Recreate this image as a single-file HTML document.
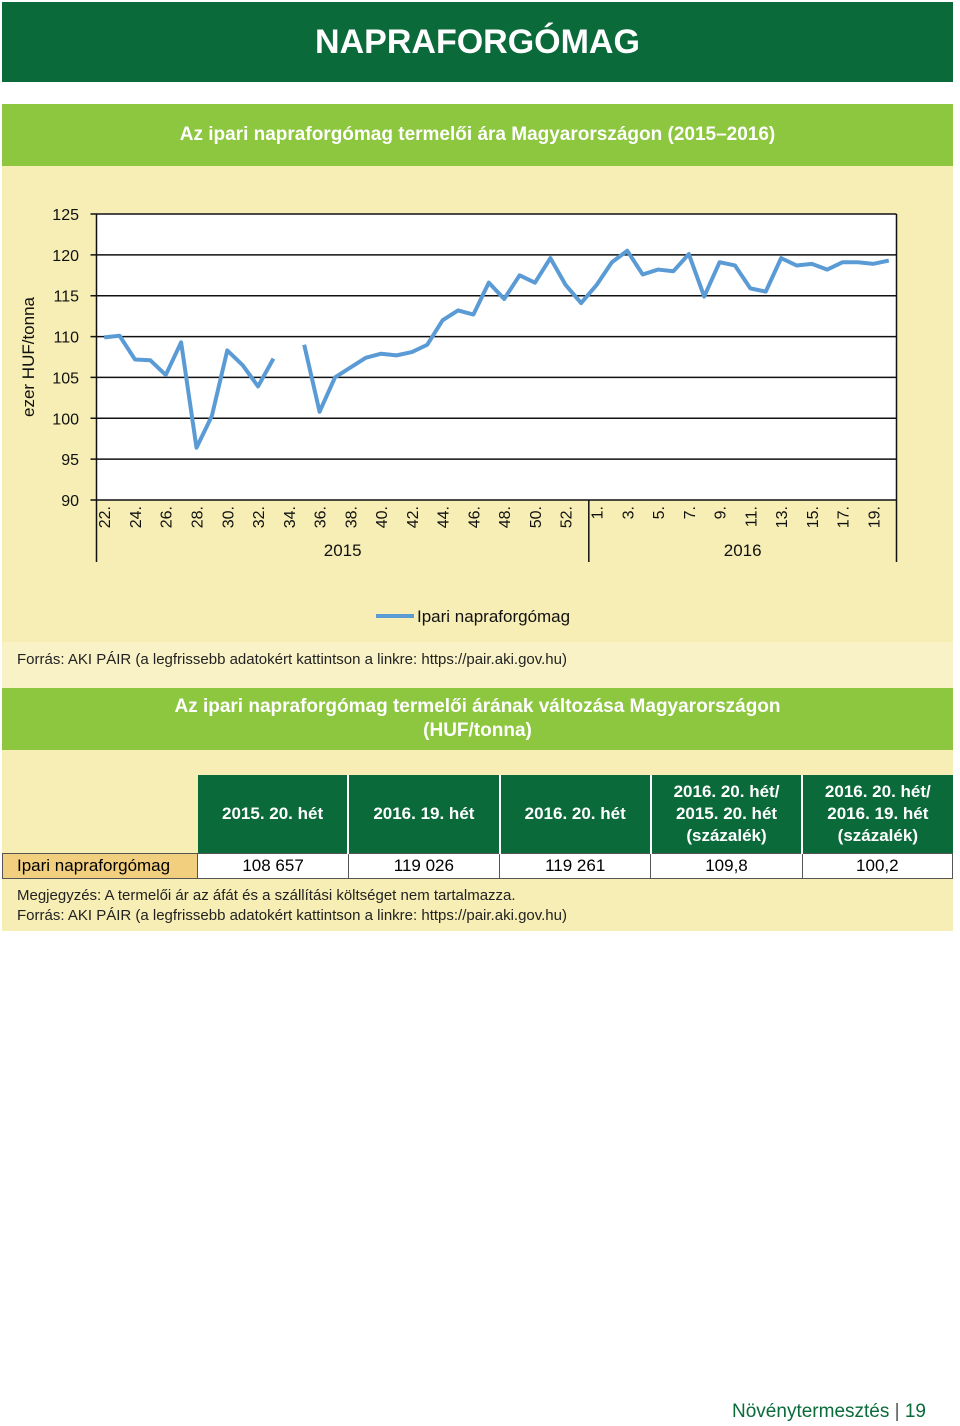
<!DOCTYPE html>
<html><head><meta charset="utf-8"><style>
body{margin:0;width:960px;height:1426px;background:#fff;font-family:"Liberation Sans",sans-serif;position:relative;overflow:hidden}
.abs{position:absolute}
.hdr{left:2px;width:951px;top:2px;height:80px;background:#0b6a3a;color:#fff;font-weight:bold;font-size:34px;text-align:center;line-height:80px}
.band{left:2px;width:951px;background:#8dc63f;color:#fff;font-weight:bold;font-size:19px;text-align:center}
.yel{left:2px;width:951px;background:#f6eeb4}
table{border-collapse:collapse}
td{font-size:17px;text-align:center;padding:0}
.th{background:#0b6a3a;color:#fff;font-weight:bold;border-right:2px solid #fff;height:78px;line-height:22px}
.tc{border:1px solid #555;height:24px;background:#fff}
</style></head><body>
<div class="abs hdr">NAPRAFORGÓMAG</div>
<div class="abs band" style="top:104px;height:62px;line-height:62px">Az ipari napraforgómag termelői ára Magyarországon (2015–2016)</div>
<div class="abs yel" style="top:166px;height:476px"></div>
<div class="abs yel" style="top:642px;height:46px;background:#f9f2c6"></div>
<div class="abs" style="left:17px;top:651px;font-size:15px;color:#222">Forrás: AKI PÁIR (a legfrissebb adatokért kattintson a linkre: https://pair.aki.gov.hu)</div>
<svg class="abs" style="left:0;top:166px" width="960" height="476" id="chart"></svg>
<div class="abs band" style="top:688px;height:62px;line-height:24px;padding-top:7px;box-sizing:border-box">Az ipari napraforgómag termelői árának változása Magyarországon<br>(HUF/tonna)</div>
<div class="abs yel" style="top:750px;height:181px"></div>
<table class="abs" style="left:2px;top:775px;width:951px">
<tr><td style="width:195px"></td>
<td class="th" style="width:149px">2015. 20. hét</td><td class="th" style="width:149px">2016. 19. hét</td><td class="th" style="width:149px">2016. 20. hét</td><td class="th" style="width:149px">2016. 20. hét/<br>2015. 20. hét<br>(százalék)</td><td class="th" style="width:149px;border-right:none">2016. 20. hét/<br>2016. 19. hét<br>(százalék)</td></tr>
<tr><td class="tc" style="background:#f2cf7f;text-align:left;padding-left:14px">Ipari napraforgómag</td>
<td class="tc">108 657</td><td class="tc">119 026</td><td class="tc">119 261</td><td class="tc">109,8</td><td class="tc">100,2</td></tr>
</table>
<div class="abs" style="left:17px;top:886px;font-size:15px;line-height:20px;color:#222">Megjegyzés: A termelői ár az áfát és a szállítási költséget nem tartalmazza.<br>Forrás: AKI PÁIR (a legfrissebb adatokért kattintson a linkre: https://pair.aki.gov.hu)</div>
<div class="abs" style="right:34px;top:1401px;font-size:19px;color:#0b6a3a">Növénytermesztés <span style="color:#555">|</span> 19</div>
<script>
const weeks2015=[22,23,24,25,26,27,28,29,30,31,32,33,34,35,36,37,38,39,40,41,42,43,44,45,46,47,48,49,50,51,52,53];
const weeks2016=[1,2,3,4,5,6,7,8,9,10,11,12,13,14,15,16,17,18,19,20];
const prices=[109.9,110.1,107.2,107.1,105.3,109.3,96.4,100.3,108.3,106.5,103.9,107.3,null,109.0,100.8,105.0,106.2,107.4,107.9,107.7,108.1,109.0,112.0,113.2,112.7,116.6,114.6,117.5,116.6,119.6,116.3,114.1,116.3,119.1,120.5,117.6,118.2,118.0,120.1,114.9,119.1,118.7,115.9,115.5,119.6,118.7,118.9,118.2,119.1,119.1,118.9,119.3];
const yTicks=[90,95,100,105,110,115,120,125];
const svg=document.getElementById('chart');const NS='http://www.w3.org/2000/svg';
const L=96.5,R=896.5,T=48,B=334;
const cats=weeks2015.concat(weeks2016);const n=cats.length;const bw=(R-L)/n;
const x=i=>L+bw*(i+0.5);const y=v=>B-(v-90)/(125-90)*(B-T);
function mk(t,a,p){const e=document.createElementNS(NS,t);for(const k in a)e.setAttribute(k,a[k]);(p||svg).appendChild(e);return e;}
const bg=mk('rect',{x:L,y:T,width:R-L,height:B-T,fill:'#fff'});


yTicks.forEach(v=>{const g=mk('line',{x1:L-6,x2:R,y1:y(v),y2:y(v),stroke:'#111','stroke-width':1.5});


const t=mk('text',{x:79,y:y(v)+6,'text-anchor':'end','font-size':16,fill:'#111'});t.textContent=v;

});
mk('line',{x1:L,x2:L,y1:T,y2:396,stroke:'#111','stroke-width':1.5});
const div=L+bw*weeks2015.length;
mk('line',{x1:div,x2:div,y1:B,y2:396,stroke:'#111','stroke-width':1.5});
mk('line',{x1:R,x2:R,y1:T,y2:396,stroke:'#111','stroke-width':1.5});
cats.forEach((c,i)=>{if(i%2)return;const t=mk('text',{transform:`translate(${x(i)+6},${B+6}) rotate(-90)`,'text-anchor':'end','font-size':16,fill:'#111'});t.textContent=c+'.';

});
[['2015',(L+div)/2],['2016',(div+R)/2]].forEach(a=>{const t=mk('text',{x:a[1],y:390,'text-anchor':'middle','font-size':17,fill:'#111'});t.textContent=a[0];

});
let segs=[],cur=[];prices.forEach((v,i)=>{if(v==null){if(cur.length)segs.push(cur);cur=[];}else cur.push(x(i)+','+y(v));});if(cur.length)segs.push(cur);
segs.forEach(s=>{const p=mk('polyline',{points:s.join(' '),fill:'none',stroke:'#5b9bd5','stroke-width':4,'stroke-linejoin':'round'});

});
const ll=mk('line',{x1:376,x2:414,y1:450,y2:450,stroke:'#5b9bd5','stroke-width':4});


const lt=mk('text',{x:417,y:456,'font-size':17,fill:'#111'});lt.textContent='Ipari napraforgómag';


const yt=mk('text',{transform:'translate(34,191) rotate(-90)','text-anchor':'middle','font-size':17,fill:'#111'});yt.textContent='ezer HUF/tonna';


</script>
</body></html>
